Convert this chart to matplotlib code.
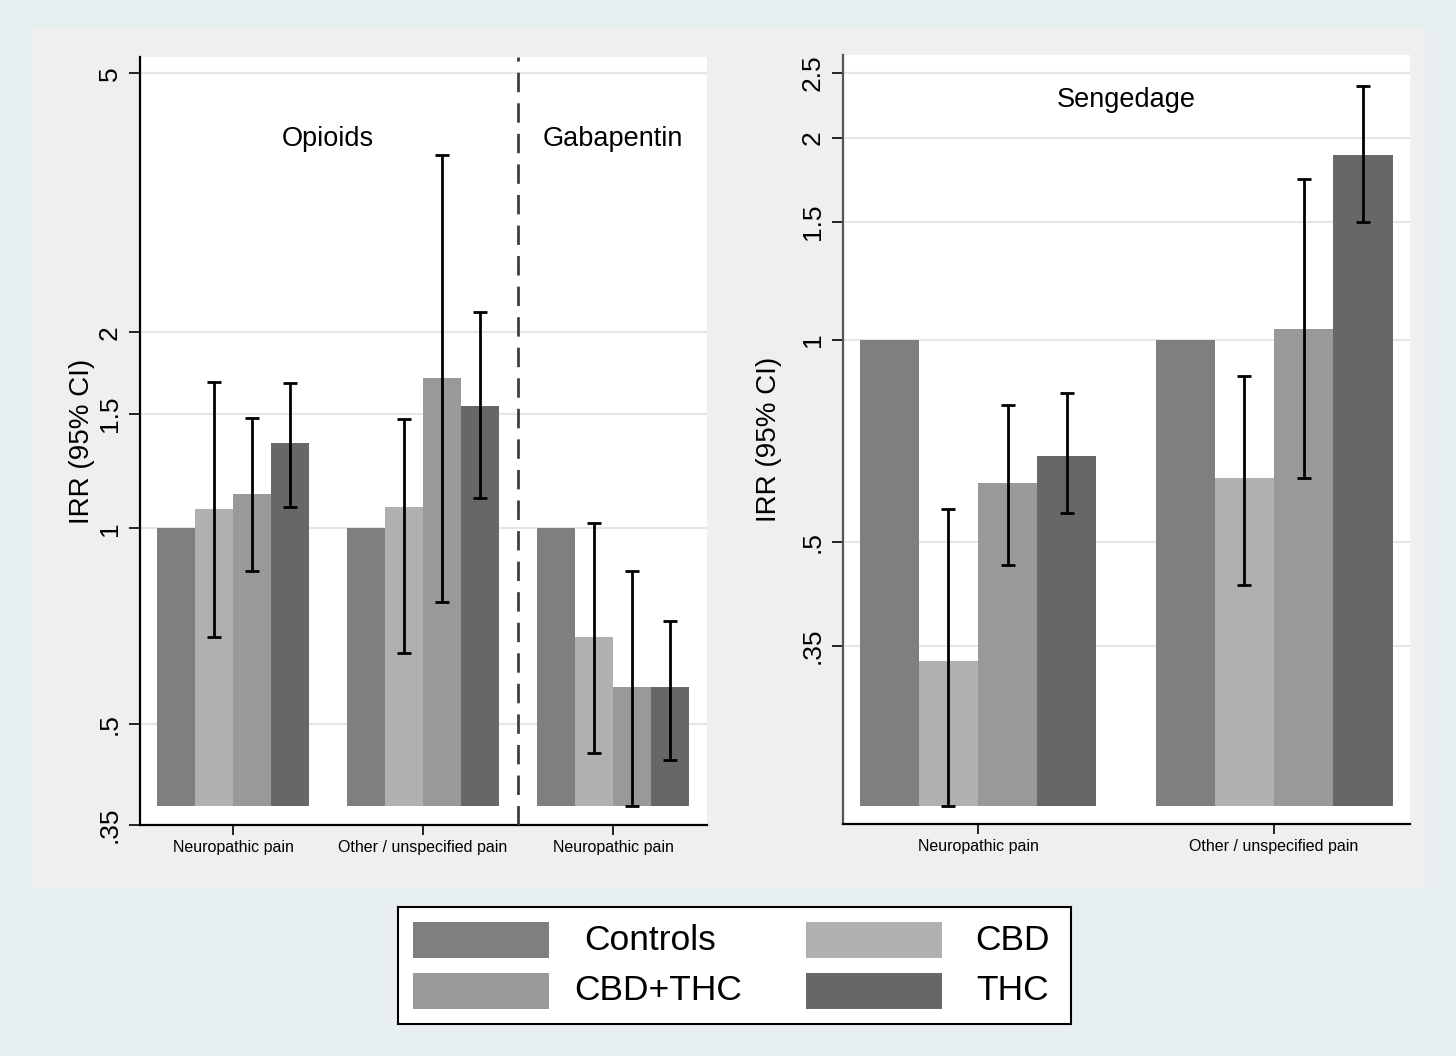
import matplotlib
matplotlib.use('Agg')
import matplotlib.pyplot as plt
from matplotlib.patches import Rectangle
from matplotlib.ticker import NullLocator, FixedLocator
import numpy as np

plt.rcParams['font.family'] = ['Liberation Sans', 'DejaVu Sans']

# ---------------- data ----------------
series = ['Controls', 'CBD', 'CBD+THC', 'THC']
colors = ['#7f7f7f', '#b0b0b0', '#999999', '#676767']

# Left panel: Opioids (Neuropathic, Other) + Gabapentin (Neuropathic)
left_categories = ['Neuropathic pain', 'Other / unspecified pain', 'Neuropathic pain']
left_controls = [1.0, 1.0, 1.0]
left_cbd = [1.07, 1.08, 0.68]
left_cbd_lo = [0.68, 0.643, 0.452]
left_cbd_hi = [1.68, 1.47, 1.02]
left_cbdthc = [1.13, 1.70, 0.57]
left_cbdthc_lo = [0.86, 0.771, 0.375]
left_cbdthc_hi = [1.48, 3.75, 0.86]
left_thc = [1.35, 1.54, 0.57]
left_thc_lo = [1.08, 1.115, 0.441]
left_thc_hi = [1.67, 2.15, 0.72]
left_yticks = [0.35, 0.5, 1, 1.5, 2, 5]
left_yticklabels = ['.35', '.5', '1', '1.5', '2', '5']

# Right panel: Sengedage
right_categories = ['Neuropathic pain', 'Other / unspecified pain']
right_controls = [1.0, 1.0]
right_cbd = [0.332, 0.622]
right_cbd_lo = [0.202, 0.432]
right_cbd_hi = [0.56, 0.884]
right_cbdthc = [0.612, 1.04]
right_cbdthc_lo = [0.462, 0.622]
right_cbdthc_hi = [0.80, 1.74]
right_thc = [0.671, 1.89]
right_thc_lo = [0.552, 1.50]
right_thc_hi = [0.833, 2.39]
right_yticks = [0.35, 0.5, 1, 1.5, 2, 2.5]
right_yticklabels = ['.35', '.5', '1', '1.5', '2', '2.5']

# ---------------- figure ----------------
fig = plt.figure(figsize=(14.56, 10.56), dpi=100)
fig.patch.set_facecolor('#e8eff1')
fig.add_artist(Rectangle((32 / 1456, 1 - 888 / 1056), (1426 - 32) / 1456, (888 - 28) / 1056,
                         transform=fig.transFigure, facecolor='#efefef', edgecolor='none', zorder=-10))

offsets = [-0.3, -0.1, 0.1, 0.3]
bw = 0.2


def draw_panel(ax, cats, vals, los, his, base, ylim, xlim, yticks, yticklabels, spine_color):
    x = np.arange(len(cats))
    for i, (name, col) in enumerate(zip(series, colors)):
        v = np.array(vals[i])
        ax.bar(x + offsets[i], v - base, bottom=base, width=bw, color=col,
               edgecolor='none', zorder=2)
        if los[i] is not None:
            lo = np.array(los[i]); hi = np.array(his[i])
            ax.errorbar(x + offsets[i], v, yerr=[v - lo, hi - v], fmt='none',
                        ecolor='black', elinewidth=2.0, capsize=5, capthick=2.0, zorder=3)
    ax.set_yscale('log')
    ax.set_ylim(*ylim)
    ax.set_xlim(*xlim)
    ax.yaxis.set_major_locator(FixedLocator(yticks))
    ax.yaxis.set_minor_locator(NullLocator())
    ax.set_yticklabels(yticklabels, rotation=90, va='center', fontsize=19)
    ax.set_xticks(x)
    ax.set_xticklabels(cats, fontsize=11.5)
    ax.tick_params(axis='x', direction='out', length=7, width=1.2, pad=4, colors='black')
    ax.tick_params(axis='y', direction='out', length=8, width=1.2, pad=5, colors='black')
    ax.yaxis.grid(True, color='#e6e6e6', linewidth=1.6, zorder=0)
    ax.set_axisbelow(True)
    for s in ['top', 'right']:
        ax.spines[s].set_visible(False)
    ax.spines['left'].set_color(spine_color)
    ax.spines['left'].set_linewidth(1.6)
    ax.spines['bottom'].set_color('black')
    ax.spines['bottom'].set_linewidth(1.6)
    ax.set_facecolor('white')
    ax.set_ylabel('IRR (95% CI)', fontsize=20)


axL = fig.add_axes([140 / 1456, 1 - 825 / 1056, 567 / 1456, 768 / 1056])
draw_panel(axL, left_categories,
           [left_controls, left_cbd, left_cbdthc, left_thc],
           [None, left_cbd_lo, left_cbdthc_lo, left_thc_lo],
           [None, left_cbd_hi, left_cbdthc_hi, left_thc_hi],
           base=0.375, ylim=(0.35, 5.3), xlim=(-0.49, 2.495),
           yticks=left_yticks, yticklabels=left_yticklabels, spine_color='black')
axL.yaxis.set_label_coords(-0.079, 0.5)
axL.axvline(1.5, color='#404040', linewidth=2, dashes=(7, 4), zorder=4)
axL.text(0.5, 0.893, 'Opioids', transform=axL.get_xaxis_transform(), ha='center', va='center', fontsize=19.5)
axL.text(2.0, 0.893, 'Gabapentin', transform=axL.get_xaxis_transform(), ha='center', va='center', fontsize=19.5)

axR = fig.add_axes([843 / 1456, 1 - 824 / 1056, 567 / 1456, 769 / 1056])
draw_panel(axR, right_categories,
           [right_controls, right_cbd, right_cbdthc, right_thc],
           [None, right_cbd_lo, right_cbdthc_lo, right_thc_lo],
           [None, right_cbd_hi, right_cbdthc_hi, right_thc_hi],
           base=0.202, ylim=(0.19, 2.66), xlim=(-0.456, 1.459),
           yticks=right_yticks, yticklabels=right_yticklabels, spine_color='#555555')
axR.yaxis.set_label_coords(-0.108, 0.5)
axR.text(0.5, 0.941, 'Sengedage', transform=axR.get_xaxis_transform(), ha='center', va='center', fontsize=19.5)

# ---------------- legend ----------------
lax = fig.add_axes([398 / 1456, 1 - 1024 / 1056, 673 / 1456, 117 / 1056])
lax.set_xlim(0, 673)
lax.set_ylim(117, 0)
lax.set_xticks([]); lax.set_yticks([])
lax.set_facecolor('white')
for s in lax.spines.values():
    s.set_color('black'); s.set_linewidth(1.5)
legend_cells = [(0, 0, 15, 'center', 252), (1, 0, 408, 'right', 652),
                (0, 1, 15, 'center', 260), (1, 1, 408, 'right', 651)]
legend_order = ['Controls', 'CBD', 'CBD+THC', 'THC']
for name, (col_i, row_i, px, ha, tx) in zip(legend_order, legend_cells):
    y0 = 15 + row_i * 51
    c = colors[series.index(name)]
    lax.add_patch(Rectangle((px, y0), 136, 36, facecolor=c, edgecolor='none'))
    lax.text(tx, y0 + 18, name, ha=ha, va='center', fontsize=25.5)

fig.savefig('out.png', dpi=100, facecolor=fig.get_facecolor())
